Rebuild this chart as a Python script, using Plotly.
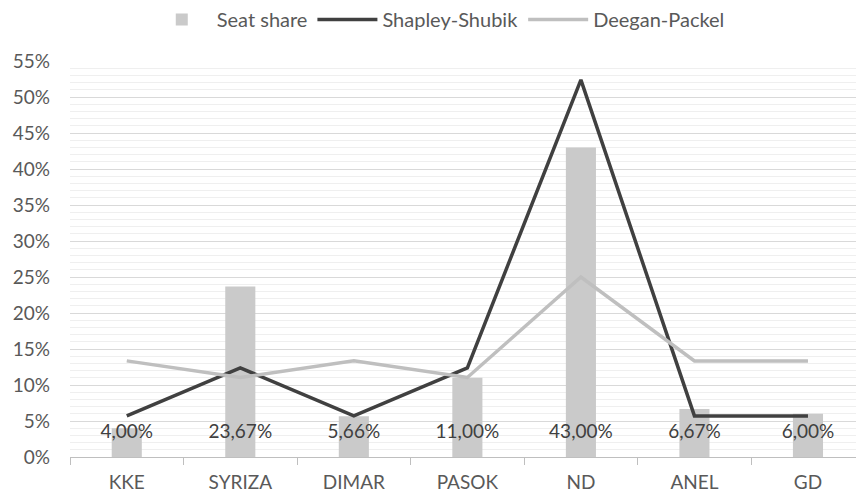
import plotly.graph_objects as go

parties = ["KKE", "SYRIZA", "DIMAR", "PASOK", "ND", "ANEL", "GD"]
seat_share = [0.0400, 0.2367, 0.0566, 0.1100, 0.4300, 0.0667, 0.0600]
shapley_shubik = [0.0571, 0.1238, 0.0571, 0.1238, 0.5238, 0.0571, 0.0571]
deegan_packel = [0.1335, 0.1105, 0.1335, 0.1105, 0.2500, 0.1335, 0.1335]
y_ticks = [i / 100 for i in range(0, 56, 5)]
y_tick_labels = [f"{i}%" for i in range(0, 56, 5)]

FONT = "Lato, 'Liberation Sans', sans-serif"
TXT = "#595959"
FS = 19

seat_labels = [f"{v*100:.2f}%".replace(".", ",") for v in seat_share]

fig = go.Figure()
fig.add_trace(go.Bar(
    x=parties, y=seat_share, name="Seat share",
    marker=dict(color="#cacaca", line=dict(width=0)),
))
fig.add_trace(go.Scatter(
    x=parties, y=shapley_shubik, name="Shapley-Shubik", mode="lines",
    line=dict(color="#404040", width=3.5),
))
fig.add_trace(go.Scatter(
    x=parties, y=deegan_packel, name="Deegan-Packel", mode="lines",
    line=dict(color="#bfbfbf", width=3.5),
))
fig.add_trace(go.Scatter(
    x=parties, y=[0.0333] * len(parties), mode="text", text=seat_labels,
    textposition="middle center", showlegend=False, hoverinfo="skip",
    textfont=dict(family=FONT, size=FS, color="#404040"),
))

fig.update_layout(
    width=856, height=499,
    margin=dict(l=70, r=0, t=61, b=42),
    paper_bgcolor="white", plot_bgcolor="white",
    font=dict(family=FONT, size=FS, color=TXT),
    bargap=0.735,
    showlegend=True,
    legend=dict(
        orientation="h", xref="container", yref="container",
        x=0.512, xanchor="center", y=1.0, yanchor="top",
        font=dict(family=FONT, size=20, color=TXT),
        traceorder="normal", itemwidth=60,
        bgcolor="rgba(0,0,0,0)",
    ),
    xaxis=dict(
        range=[-0.5, 6.423], showgrid=False, showline=True,
        linecolor="#bfbfbf", linewidth=1,
        ticks="outside", tickson="boundaries", ticklen=7,
        tickcolor="#bfbfbf", tickfont=dict(family=FONT, size=FS, color=TXT),
        ticklabelstandoff=8,
        fixedrange=True,
    ),
    yaxis=dict(
        range=[0, 0.55], tickvals=y_ticks, ticktext=y_tick_labels,
        showgrid=True, gridcolor="#d9d9d9", gridwidth=1, zeroline=False,
        minor=dict(dtick=0.01, showgrid=True, gridcolor="#efefef", gridwidth=1),
        tickfont=dict(family=FONT, size=FS, color=TXT),
        ticklabelstandoff=19,
        fixedrange=True,
    ),
)

# remove the page's default 8px body margin so the figure fills the window
fig.write_html(
    "out.html",
    config={"displayModeBar": False},
    post_script="document.body.style.margin='0';document.body.style.overflow='hidden';",
)
